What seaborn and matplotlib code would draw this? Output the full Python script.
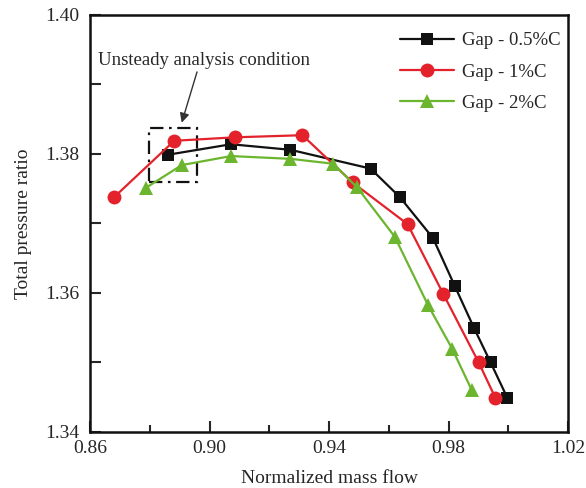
import matplotlib
matplotlib.use("Agg")
import matplotlib.pyplot as plt
import seaborn as sns
import pandas as pd
from matplotlib.patches import Rectangle
from matplotlib.ticker import MultipleLocator

# ---- data ----
labels = ["Gap - 0.5%C", "Gap - 1%C", "Gap - 2%C"]
x_05 = [0.8862, 0.9072, 0.9271, 0.9539, 0.9637, 0.9748, 0.9821, 0.9886, 0.9941, 0.9997]
y_05 = [1.3799, 1.3814, 1.3806, 1.3779, 1.3738, 1.3679, 1.3610, 1.3549, 1.3500, 1.3449]
x_1 = [0.8681, 0.8882, 0.9086, 0.9311, 0.9479, 0.9663, 0.9782, 0.9901, 0.9957]
y_1 = [1.3738, 1.3819, 1.3824, 1.3827, 1.3759, 1.3699, 1.3599, 1.3500, 1.3449]
x_2 = [0.8786, 0.8907, 0.9072, 0.9271, 0.9414, 0.9494, 0.9620, 0.9732, 0.9812, 0.9877]
y_2 = [1.3751, 1.3784, 1.3797, 1.3793, 1.3786, 1.3752, 1.3681, 1.3582, 1.3520, 1.3461]
x_ticks = [0.86, 0.90, 0.94, 0.98, 1.02]
y_ticks = [1.34, 1.36, 1.38, 1.40]

frames = []
for lab, xs, ys in zip(labels, [x_05, x_1, x_2], [y_05, y_1, y_2]):
    frames.append(pd.DataFrame({"flow": xs, "ratio": ys, "case": lab,
                                "order": range(len(xs))}))
df = pd.concat(frames, ignore_index=True)

sns.set_style("ticks")
plt.rcParams["font.family"] = ["Liberation Serif", "DejaVu Serif"]
plt.rcParams["mathtext.fontset"] = "stix"

fig = plt.figure(figsize=(5.86, 4.88), dpi=100)
ax = fig.add_axes([0.1536, 0.1148, 0.8157, 0.8545])

palette = {labels[0]: "#111111", labels[1]: "#e3222b", labels[2]: "#6cb52f"}
markers = {labels[0]: "s", labels[1]: "o", labels[2]: "^"}
sizes = {labels[0]: 8, labels[1]: 10, labels[2]: 10}

for lab in labels:
    sub = df[df["case"] == lab]
    sns.lineplot(data=sub, x="flow", y="ratio", color=palette[lab], marker=markers[lab],
                 markersize=sizes[lab], markeredgewidth=0, linewidth=1.6, sort=False,
                 estimator=None, ax=ax, label=lab)

ax.set_xlim(0.86, 1.02)
ax.set_ylim(1.34, 1.40)
ax.set_xticks(x_ticks)
ax.set_xticklabels([f"{v:.2f}" for v in x_ticks])
ax.xaxis.set_minor_locator(MultipleLocator(0.02))
ax.set_yticks(y_ticks)
ax.set_yticklabels([f"{v:.2f}" for v in y_ticks])
ax.yaxis.set_minor_locator(MultipleLocator(0.01))
ax.tick_params(axis="both", which="major", direction="in", length=8, width=1.5,
               labelsize=14)
ax.tick_params(axis="y", which="major", pad=8)
ax.tick_params(axis="x", which="major", pad=6)
ax.tick_params(axis="x", which="minor", direction="in", length=5, width=1.5)
ax.tick_params(axis="y", which="minor", direction="in", length=8, width=1.5)
for s in ax.spines.values():
    s.set_linewidth(1.8)
    s.set_color("#111111")

ax.set_xlabel("Normalized mass flow", fontsize=14, labelpad=9)
ax.set_ylabel("Total pressure ratio", fontsize=14, labelpad=9)

# dash-dot box
ax.add_patch(Rectangle((0.8798, 1.3760), 0.0161, 0.0078, fill=False,
                       linestyle=(0, (6, 2.5, 1.2, 2.5)), linewidth=1.6, edgecolor="#111111"))
ax.annotate("Unsteady analysis condition", xy=(0.8907, 1.3845), xytext=(0.8628, 1.3935),
            fontsize=13.5, va="center", ha="left",
            arrowprops=dict(arrowstyle="-|>", color="#333333", lw=1.0,
                            shrinkA=0, shrinkB=0, mutation_scale=14,
                            relpos=(0.47, 0.0)))

ax.legend(loc="upper right", bbox_to_anchor=(1.012, 0.99), frameon=False, fontsize=13.5,
          handlelength=2.9, handletextpad=0.4, labelspacing=0.75, borderaxespad=0.3)

fig.savefig("out.png", dpi=100)
